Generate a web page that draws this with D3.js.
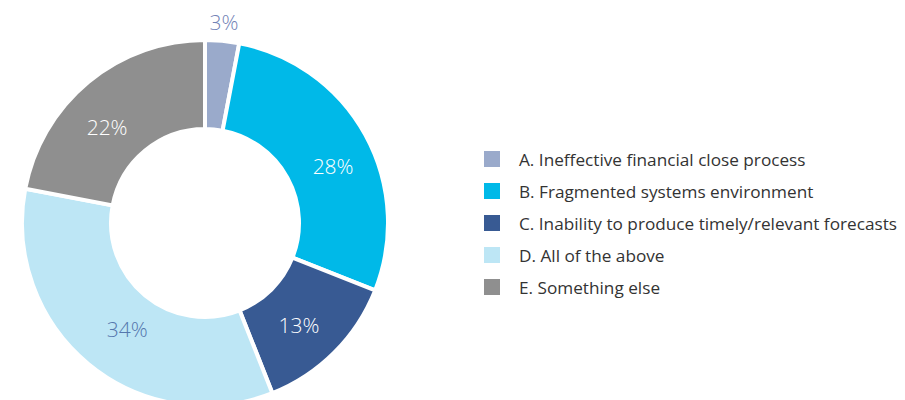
<!DOCTYPE html>
<html>
<head>
<meta charset="utf-8">
<script src="https://cdn.jsdelivr.net/npm/d3@7"></script>
<style>
  html, body { margin: 0; padding: 0; background: #fff; }
  svg { display: block; }
  text { font-family: "Open Sans", "Noto Sans", sans-serif; }
</style>
</head>
<body>
<svg id="chart" width="905" height="400"></svg>
<script>
// Survey answers and their shares (percent)
const categories = [
  "A. Ineffective financial close process",
  "B. Fragmented systems environment",
  "C. Inability to produce timely/relevant forecasts",
  "D. All of the above",
  "E. Something else"
];
const values = [3, 28, 13, 34, 22];
const sliceColors = ["#9aaacb", "#00b9e8", "#385a93", "#bde6f5", "#8f8f8f"];
const labelColors = ["#7282b6", "#ffffff", "#ffffff", "#5577ad", "#ffffff"];

const svg = d3.select("#chart");
const cx = 205, cy = 223, rOuter = 183, rInner = 94;

const data = categories.map((c, i) => ({ name: c, value: values[i], color: sliceColors[i], labelColor: labelColors[i] }));

const pie = d3.pie().value(d => d.value).sort(null);
const arcs = pie(data);

const arc = d3.arc().innerRadius(rInner).outerRadius(rOuter);

const g = svg.append("g").attr("transform", `translate(${cx},${cy})`);

g.selectAll("path.slice")
  .data(arcs)
  .join("path")
  .attr("class", "slice")
  .attr("d", arc)
  .attr("fill", d => d.data.color)
  .attr("stroke", "#fff")
  .attr("stroke-width", 4)
  .attr("stroke-linejoin", "miter");

// Percent labels: placed inside the ring, small slices pushed outside it.
// Slight per-slice angular nudges keep labels clear of the slice edges.
const labelNudge = [0, 5, 2.5, -3.5, -6];      // degrees
const labelRadius = [201, 140, 139, 132, 137];
function labelPos(d, i) {
  const a = (d.startAngle + d.endAngle) / 2 + labelNudge[i] * Math.PI / 180;
  const r = labelRadius[i];
  return [r * Math.sin(a), -r * Math.cos(a)];
}

g.selectAll("text.pct")
  .data(arcs)
  .join("text")
  .attr("class", "pct")
  .attr("transform", (d, i) => `translate(${labelPos(d, i)})`)
  .attr("text-anchor", "middle")
  .attr("dy", "0.35em")
  .attr("font-size", 21)
  .attr("font-weight", 300)
  .attr("fill", d => d.data.labelColor)
  .text(d => d.data.value + "%");

// Legend
const legend = svg.append("g").attr("transform", "translate(484,159)");
const rows = legend.selectAll("g.row")
  .data(data)
  .join("g")
  .attr("class", "row")
  .attr("transform", (d, i) => `translate(0,${i * 32})`);

rows.append("rect")
  .attr("x", 0).attr("y", -8)
  .attr("width", 16).attr("height", 16)
  .attr("fill", d => d.color);

rows.append("text")
  .attr("x", 35)
  .attr("dy", "0.42em")
  .attr("font-size", 17.2)
  .attr("font-weight", 400)
  .attr("fill", "#333")
  .text(d => d.name);
</script>
</body>
</html>
